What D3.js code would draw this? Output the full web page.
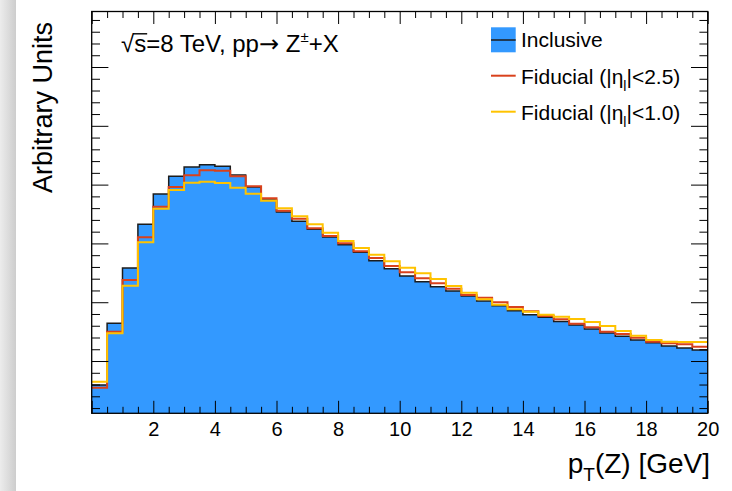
<!DOCTYPE html>
<html>
<head>
<meta charset="utf-8">
<script src="https://cdn.jsdelivr.net/npm/d3@7"></script>
<style>
  body { margin: 0; background: #fff; }
  svg { display: block; font-family: "Liberation Sans", Arial, Helvetica, sans-serif; }
</style>
</head>
<body>
<svg id="chart" width="732" height="491"></svg>
<script>
// pT(Z) bins: lower edges in GeV, 0.5 GeV wide
const binLow = [0, 0.5, 1, 1.5, 2, 2.5, 3, 3.5, 4, 4.5, 5, 5.5, 6, 6.5, 7, 7.5, 8, 8.5, 9, 9.5,
                10, 10.5, 11, 11.5, 12, 12.5, 13, 13.5, 14, 14.5, 15, 15.5, 16, 16.5, 17, 17.5, 18, 18.5, 19, 19.5];
const binWidth = 0.5;

// Histogram contents (arbitrary units)
const inclusive = [0.592, 1.641, 2.582, 3.325, 3.840, 4.141, 4.299, 4.338, 4.311, 4.163,
                   3.959, 3.738, 3.534, 3.378, 3.240, 3.109, 2.978, 2.849, 2.706, 2.570,
                   2.446, 2.349, 2.264, 2.190, 2.105, 2.020, 1.940, 1.855, 1.787, 1.743,
                   1.672, 1.612, 1.544, 1.476, 1.420, 1.357, 1.311, 1.255, 1.221, 1.187];
const fiducial25 = [0.546, 1.498, 2.378, 3.104, 3.624, 3.959, 4.158, 4.243, 4.236, 4.141,
                    3.971, 3.767, 3.556, 3.420, 3.257, 3.126, 3.002, 2.866, 2.752, 2.616,
                    2.510, 2.406, 2.321, 2.230, 2.122, 2.077, 1.998, 1.918, 1.845, 1.765,
                    1.709, 1.634, 1.573, 1.498, 1.459, 1.396, 1.328, 1.301, 1.284, 1.243];
const fiducial10 = [0.648, 1.471, 2.281, 3.019, 3.590, 3.908, 4.032, 4.049, 4.027, 3.947,
                    3.845, 3.726, 3.597, 3.463, 3.325, 3.182, 3.041, 2.922, 2.808, 2.696,
                    2.587, 2.491, 2.395, 2.276, 2.162, 2.049, 1.957, 1.879, 1.838, 1.787,
                    1.752, 1.714, 1.663, 1.595, 1.510, 1.430, 1.357, 1.328, 1.323, 1.323];

const xMajorTicks = [0, 2, 4, 6, 8, 10, 12, 14, 16, 18, 20];
const xTickLabels = ["", "2", "4", "6", "8", "10", "12", "14", "16", "18", "20"];
const yMajorTicks = [1, 2, 3, 4, 5, 6];

const colors = { fill: "#3399ff", inclusive: "#1c1c1c", fid25: "#d9411c", fid10: "#ffc300" };

const svg = d3.select("#chart");

// window-edge shading on the left
const defs = svg.append("defs");
const grad = defs.append("linearGradient").attr("id", "edge").attr("x1", 0).attr("x2", 1);
grad.append("stop").attr("offset", 0).attr("stop-color", "#ececec");
grad.append("stop").attr("offset", 1).attr("stop-color", "#cdcdcd");
svg.append("rect").attr("x", 0).attr("y", 0).attr("width", 16).attr("height", 491).attr("fill", "url(#edge)");

const L = 91.7, R = 707.7, T = 11.5, B = 413.3;
const x = d3.scaleLinear().domain([0, 20]).range([L, R]);
const y = d3.scaleLinear().domain([0.111, 6.944]).range([B, T]);

defs.append("clipPath").attr("id", "plot")
  .append("rect").attr("x", L).attr("y", T).attr("width", R - L).attr("height", B - T);

// step points: each bin's lower edge plus the final upper edge
function steps(values) {
  const pts = binLow.map((lo, i) => [lo, values[i]]);
  pts.push([binLow[binLow.length - 1] + binWidth, values[values.length - 1]]);
  return pts;
}

const g = svg.append("g").attr("clip-path", "url(#plot)");
const area = d3.area().curve(d3.curveStepAfter).x(d => x(d[0])).y0(B + 5).y1(d => y(d[1]));
const line = d3.line().curve(d3.curveStepAfter).x(d => x(d[0])).y(d => y(d[1]));

g.append("path").attr("d", area(steps(inclusive))).attr("fill", colors.fill);
g.append("path").attr("d", line(steps(inclusive))).attr("fill", "none")
  .attr("stroke", colors.inclusive).attr("stroke-width", 1.5);
g.append("path").attr("d", line(steps(fiducial25))).attr("fill", "none")
  .attr("stroke", colors.fid25).attr("stroke-width", 2);
g.append("path").attr("d", line(steps(fiducial10))).attr("fill", "none")
  .attr("stroke", colors.fid10).attr("stroke-width", 2);

// axes: ticks drawn inward on all four sides
const xMinor = d3.range(0, 20.001, 0.5).filter(v => v % 2 !== 0);
const yMinor = d3.range(0.2, 6.95, 0.2).filter(v => Math.abs(v - Math.round(v)) > 1e-6);

function styleAxis(sel) {
  sel.select(".domain").remove();
  sel.selectAll("line").attr("stroke", "#000").attr("stroke-width", 1);
}

svg.append("g").attr("transform", `translate(0,${B})`)
  .call(d3.axisBottom(x).tickValues(xMajorTicks).tickSize(-12.5).tickPadding(9)
    .tickFormat((d, i) => xTickLabels[i]))
  .call(styleAxis)
  .call(s => s.selectAll("text").attr("font-size", 20).attr("fill", "#000")
    .attr("font-family", "Liberation Sans, Arial, sans-serif"));
svg.append("g").attr("transform", `translate(0,${B})`)
  .call(d3.axisBottom(x).tickValues(xMinor).tickSize(-6.5).tickFormat(""))
  .call(styleAxis);
svg.append("g").attr("transform", `translate(0,${T})`)
  .call(d3.axisTop(x).tickValues(xMajorTicks).tickSize(-12.5).tickFormat(""))
  .call(styleAxis);
svg.append("g").attr("transform", `translate(0,${T})`)
  .call(d3.axisTop(x).tickValues(xMinor).tickSize(-6.5).tickFormat(""))
  .call(styleAxis);

svg.append("g").attr("transform", `translate(${L},0)`)
  .call(d3.axisLeft(y).tickValues(yMajorTicks).tickSize(-16.7).tickFormat(""))
  .call(styleAxis);
svg.append("g").attr("transform", `translate(${L},0)`)
  .call(d3.axisLeft(y).tickValues(yMinor).tickSize(-8.3).tickFormat(""))
  .call(styleAxis);
svg.append("g").attr("transform", `translate(${R},0)`)
  .call(d3.axisRight(y).tickValues(yMajorTicks).tickSize(-16.7).tickFormat(""))
  .call(styleAxis);
svg.append("g").attr("transform", `translate(${R},0)`)
  .call(d3.axisRight(y).tickValues(yMinor).tickSize(-8.3).tickFormat(""))
  .call(styleAxis);

// frame
svg.append("rect").attr("x", L).attr("y", T).attr("width", R - L).attr("height", B - T)
  .attr("fill", "none").attr("stroke", "#000").attr("stroke-width", 1.3);

// axis titles
const xt = svg.append("text").attr("x", 710).attr("y", 473).attr("text-anchor", "end")
  .attr("font-size", 28).attr("fill", "#000");
xt.append("tspan").text("p");
xt.append("tspan").attr("font-size", 19).attr("dy", 8).text("T");
xt.append("tspan").attr("dy", -8).text("(Z) [GeV]");

svg.append("text").attr("transform", "translate(52,22) rotate(-90)")
  .attr("text-anchor", "end").attr("font-size", 27).attr("fill", "#000")
  .text("Arbitrary Units");

// process label
const pl = svg.append("text").attr("x", 121).attr("y", 51.7).attr("font-size", 24).attr("fill", "#000");
pl.append("tspan").text("\u221A");
pl.append("tspan").text("s");
pl.append("tspan").text("=8 TeV, pp");
pl.append("tspan").attr("font-family", "DejaVu Sans").attr("font-size", 24).text("\u2192");
pl.append("tspan").text(" Z");
pl.append("tspan").attr("font-size", 15).attr("dy", -10).text("\u00B1");
pl.append("tspan").attr("dy", 10).text("+X");
{
  const node = pl.node();
  const start = node.getStartPositionOfChar(1);
  const end = node.getEndPositionOfChar(1);
  svg.append("line").attr("x1", start.x - 1).attr("x2", end.x + 1)
    .attr("y1", 33.8).attr("y2", 33.8).attr("stroke", "#000").attr("stroke-width", 1.4);
}

// legend
const legend = svg.append("g");
const lx = 491, lw = 24.7;
legend.append("rect").attr("x", lx).attr("y", 27.3).attr("width", lw).attr("height", 25).attr("fill", colors.fill);
legend.append("line").attr("x1", lx).attr("x2", lx + lw).attr("y1", 40).attr("y2", 40)
  .attr("stroke", colors.inclusive).attr("stroke-width", 1.5);
legend.append("line").attr("x1", lx).attr("x2", lx + lw).attr("y1", 75.7).attr("y2", 75.7)
  .attr("stroke", colors.fid25).attr("stroke-width", 2);
legend.append("line").attr("x1", lx).attr("x2", lx + lw).attr("y1", 111.7).attr("y2", 111.7)
  .attr("stroke", colors.fid10).attr("stroke-width", 2);

const legendText = [
  { y: 47.3, main: "Inclusive" },
  { y: 84, main: "Fiducial (|\u03B7", sub: "l", rest: "|<2.5)" },
  { y: 119.5, main: "Fiducial (|\u03B7", sub: "l", rest: "|<1.0)" }
];
legendText.forEach(t => {
  const tx = legend.append("text").attr("x", 521).attr("y", t.y).attr("font-size", 21).attr("fill", "#000");
  tx.append("tspan").text(t.main);
  if (t.sub) {
    tx.append("tspan").attr("font-size", 14).attr("dy", 7).text(t.sub);
    tx.append("tspan").attr("dy", -7).text(t.rest);
  }
});
</script>
</body>
</html>
